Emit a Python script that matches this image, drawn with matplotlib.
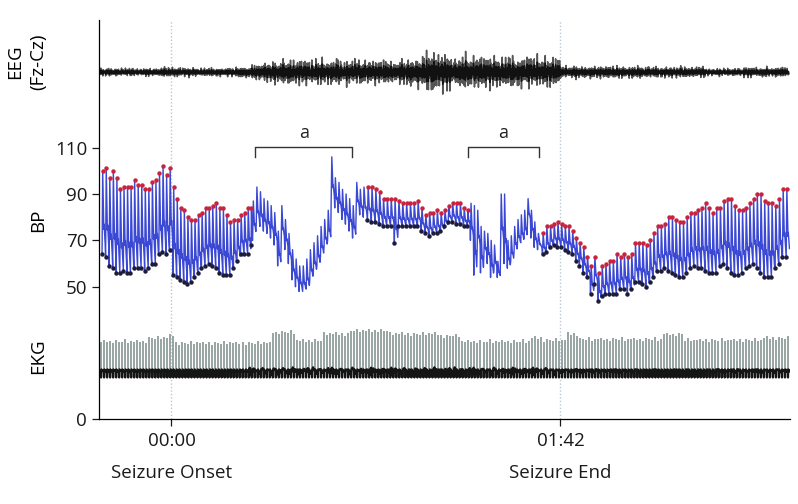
import numpy as np
import matplotlib
matplotlib.use('Agg')
import matplotlib.pyplot as plt

plt.rcParams['font.family'] = ['Open Sans', 'DejaVu Sans']

# seconds from seizure onset
T_MIN, T_MAX = -19.0, 162.2
Y_MIN, Y_MAX = -7.0, 165.0
seizure_times = [0, 102]
seizure_ticks = ['00:00', '01:42']
seizure_names = ['Seizure Onset', 'Seizure End']
y_ticks = [-7.0, 50, 70, 90, 110]
y_tick_labels = ['0', '50', '70', '90', '110']

# BP, one value per beat (mm Hg); segments with dots mark detected beats
bp_a_span = (-18.2, 20.9)
bp_a_sys = [100, 101, 97, 100, 97, 92, 93, 93, 93, 96, 94, 94, 92, 92, 95, 96, 99, 102, 98, 101,
            93, 88, 84, 83, 80, 79, 79, 81, 82, 84, 84, 85, 86, 84, 84, 81, 78, 79, 79, 81, 82, 84, 84]
bp_a_dia = [64, 63, 59, 58, 56, 56, 57, 56, 56, 58, 58, 58, 57, 58, 60, 60, 64, 65, 64, 66,
            55, 54, 53, 52, 51, 52, 54, 56, 58, 59, 60, 59, 58, 56, 55, 55, 55, 58, 61, 64, 64, 64, 68]

bp_b_span = (21.3, 50.3)
bp_b_sys = [87, 93, 91, 88, 87, 85, 82, 74, 85, 79, 73, 66, 62, 59, 59, 62,
            66, 69, 72, 76, 79, 83, 106, 97, 95, 92, 90, 88, 85, 95, 92, 93]
bp_b_dia = [72, 77, 76, 74, 73, 71, 68, 59, 70, 66, 60, 53, 50, 48, 48, 49,
            53, 56, 59, 63, 67, 70, 87, 84, 82, 79, 77, 74, 71, 83, 81, 80]

bp_c_span = (51.4, 77.6)
bp_c_sys = [93, 93, 92, 91, 88, 88, 88, 88, 87, 86, 86, 86, 86, 87, 84, 81, 82, 82, 83, 82,
            83, 85, 86, 86, 86, 84, 83]
bp_c_dia = [79, 78, 78, 77, 76, 76, 76, 69, 76, 76, 76, 76, 76, 76, 74, 73, 72, 73, 73, 74,
            76, 78, 78, 77, 77, 76, 76]

bp_d_span = (78.4, 96.0)
bp_d_sys = [86, 85, 83, 76, 74, 73, 70, 68, 61, 90, 90, 70, 72, 76, 79, 81, 83, 88, 83, 78, 73]
bp_d_dia = [70, 55, 66, 56, 63, 60, 54, 57, 54, 68, 60, 58, 61, 65, 68, 69, 71, 78, 71, 67, 66]

bp_e_span = (97.3, 161.2)
bp_e_sys = [73, 76, 76, 77, 78, 77, 76, 76, 74, 71, 69, 67, 63, 59, 63, 56, 59, 60, 61, 61,
            64, 63, 64, 63, 64, 69, 69, 69, 68, 70, 73, 76, 76, 77, 80, 80, 79, 78, 78, 80,
            82, 82, 83, 84, 86, 84, 82, 84, 84, 87, 88, 88, 85, 83, 83, 84, 86, 88, 90, 90,
            87, 86, 86, 85, 88, 92, 92]
bp_e_dia = [64, 65, 67, 68, 67, 67, 66, 65, 64, 61, 59, 56, 54, 47, 51, 44, 46, 47, 47, 47,
            47, 49, 49, 47, 49, 52, 52, 51, 50, 52, 54, 57, 57, 58, 57, 56, 55, 54, 54, 56,
            58, 59, 58, 58, 57, 56, 56, 56, 59, 60, 58, 56, 55, 55, 56, 58, 59, 60, 58, 56,
            54, 54, 54, 58, 60, 63, 63]

# irregular stretches marked "a"
bracket_spans = [(22.0, 47.4), (77.8, 96.3)]

# EEG: half-amplitude per stretch, starting at the given second
eeg_center = 142.5
eeg_knots = [-20, -3, 5, 17, 21, 24, 28, 62, 66, 72, 78, 102, 125, 140, 150]
eeg_amp = [2.0, 2.4, 2.2, 3.0, 4.0, 5.5, 6.5, 7.5, 10.5, 9.0, 8.0, 3.2, 2.8, 1.9, 2.6]
eeg_shape = [0.2, -0.5, 0.9, -0.3, 0.1, -0.8, 0.6, -0.2, 0.4, -1.0, 0.7, 0.0, -0.4, 0.8, -0.6, 0.3,
             -0.1, 0.5, -0.9, 0.2, 0.6, -0.3, -0.7, 1.0, -0.2, 0.4, -0.5, 0.1, 0.8, -0.6, 0.3, -0.8,
             0.5, -0.1, 0.2, -0.4, 0.9, -0.7, 0.0, 0.6, -0.3, 0.4, -0.9, 0.7, -0.2, 0.1, -0.5]
eeg_gain = [1.0, 0.6, 0.8, 0.4, 0.9, 0.7, 0.5, 1.0, 0.6, 0.8, 0.5, 0.9, 0.7]

# EKG: R-wave height per stretch, baseline
ekg_base = 13.7
ekg_period = 0.79
ekg_knots = [-20, -6.6, -1, 1, 26.4, 32.7, 39.6, 46.7, 57.2, 70.3, 75.6, 94.0, 97.4, 103.7,
             107.1, 128.9, 134.1, 155.1]
ekg_top = [26.4, 28.0, 29.0, 25.8, 30.3, 26.8, 29.7, 31.1, 29.7, 28.9, 26.4, 28.1, 27.0, 29.7,
           27.3, 29.5, 27.0, 28.0]
ekg_jitter = [0.0, 0.6, -0.4, 0.3, -0.8, 0.5, 0.0, -0.3, 0.9, -0.5, 0.2]
ekg_noise_knots = [-20, 20, 100]
ekg_noise_amp = [0.5, 1.6, 0.8]


def step(knots, values, t):
    idx = np.searchsorted(knots, t, side='right') - 1
    return np.asarray(values)[np.clip(idx, 0, len(values) - 1)]


def pulse_wave(times, sys, dia):
    t_out, v_out = [], []
    for i in range(len(times)):
        per = times[i + 1] - times[i] if i < len(times) - 1 else times[i] - times[i - 1]
        t0, s, d = times[i], sys[i], dia[i]
        pp = s - d
        t_out += [t0, t0 + 0.18 * per, t0 + 0.50 * per, t0 + 0.58 * per, t0 + 0.88 * per]
        v_out += [d, s, d + 0.30 * pp, d + 0.36 * pp, d + 0.12 * pp]
    return np.array(t_out), np.array(v_out)


segments = [
    (bp_a_span, bp_a_sys, bp_a_dia, True),
    (bp_b_span, bp_b_sys, bp_b_dia, False),
    (bp_c_span, bp_c_sys, bp_c_dia, True),
    (bp_d_span, bp_d_sys, bp_d_dia, False),
    (bp_e_span, bp_e_sys, bp_e_dia, True),
]

beat_t, beat_s, beat_d, beat_dot = [], [], [], []
for span, s, d, dots in segments:
    beat_t += list(np.linspace(span[0], span[1], len(s)))
    beat_s += s
    beat_d += d
    beat_dot += [dots] * len(s)
beat_t = np.array(beat_t)
beat_s = np.array(beat_s, dtype=float)
beat_d = np.array(beat_d, dtype=float)
beat_dot = np.array(beat_dot)
bp_t, bp_v = pulse_wave(beat_t, beat_s, beat_d)
periods = np.diff(beat_t, append=beat_t[-1] + (beat_t[-1] - beat_t[-2]))

fig = plt.figure(figsize=(7.98, 5.04), dpi=100)
ax = fig.add_axes([99 / 798, 85 / 504, 691 / 798, 399 / 504])

for t in seizure_times:
    ax.axvline(t, color='#b9c8d2', lw=1.0, ls=(0, (1, 1.5)), zorder=0)

# EEG
eeg_t = np.arange(T_MIN + 0.3, T_MAX - 0.3, 0.08)
n = np.arange(len(eeg_t))
wig = np.array(eeg_shape)[n % len(eeg_shape)] * np.array(eeg_gain)[(n // 4) % len(eeg_gain)]
eeg_v = eeg_center + step(eeg_knots, eeg_amp, eeg_t) * wig
ax.plot(eeg_t, eeg_v, color='#555555', lw=1.1)
ax.plot(eeg_t, eeg_center + 0.55 * (eeg_v - eeg_center), color='#111111', lw=1.0)

# BP
ax.plot(bp_t, bp_v, color='#3a48d4', lw=1.0)
ax.plot(beat_t[beat_dot] + 0.18 * periods[beat_dot], beat_s[beat_dot], 'o',
        color='#c8233f', ms=3.2, mew=0)
ax.plot(beat_t[beat_dot], beat_d[beat_dot], 'o', color='#1d1d3a', ms=3.2, mew=0)

# EKG
ekg_t = np.arange(-18.5, 161.8, ekg_period)
tops = step(ekg_knots, ekg_top, ekg_t) + np.array(ekg_jitter)[np.arange(len(ekg_t)) % len(ekg_jitter)]
ax.vlines(ekg_t, ekg_base - 2.2, tops, color='#7a8c88', lw=1.1)
bt, bv = [], []
for i, tb in enumerate(ekg_t):
    amp = step(ekg_noise_knots, ekg_noise_amp, tb)
    w1 = eeg_shape[i % len(eeg_shape)]
    w2 = eeg_shape[(i + 7) % len(eeg_shape)]
    bt += [tb, tb + 0.05, tb + 0.12, tb + 0.35, tb + 0.55]
    bv += [ekg_base, ekg_base - 2.8, ekg_base + 0.7, ekg_base + amp * w1, ekg_base + amp * w2]
ax.plot(bt, bv, color='#151515', lw=1.6)

# brackets
for a, b in bracket_spans:
    ax.plot([a, a, b, b], [106.0, 110.1, 110.1, 106.0], color='#333333', lw=1.0)
    ax.text((a + b) / 2, 116.3, 'a', ha='center', va='center', fontsize=13, color='#222222')

ax.set_xlim(T_MIN, T_MAX)
ax.set_ylim(Y_MIN, Y_MAX)
ax.set_yticks(y_ticks)
ax.set_yticklabels(y_tick_labels)
ax.set_xticks(seizure_times)
ax.set_xticklabels(seizure_ticks)
for sp in ['top', 'right']:
    ax.spines[sp].set_visible(False)
for sp in ['left', 'bottom']:
    ax.spines[sp].set_linewidth(0.9)
ax.tick_params(axis='both', labelsize=13.5, colors='#1a1a1a', length=5, width=0.9)
ax.tick_params(axis='x', pad=4)

for t, name in zip(seizure_times, seizure_names):
    ax.text(t, -0.135, name, transform=ax.get_xaxis_transform(), ha='center', va='center',
            fontsize=13.5, color='#1a1a1a')

fig.text(15 / 798, 1 - 62 / 504, 'EEG', rotation=90, ha='center', va='center', fontsize=13.5)
fig.text(38 / 798, 1 - 62 / 504, '(Fz-Cz)', rotation=90, ha='center', va='center', fontsize=13.5)
fig.text(38 / 798, 1 - 220 / 504, 'BP', rotation=90, ha='center', va='center', fontsize=13.5)
fig.text(38 / 798, 1 - 356 / 504, 'EKG', rotation=90, ha='center', va='center', fontsize=13.5)

fig.savefig('out.png', dpi=100)
